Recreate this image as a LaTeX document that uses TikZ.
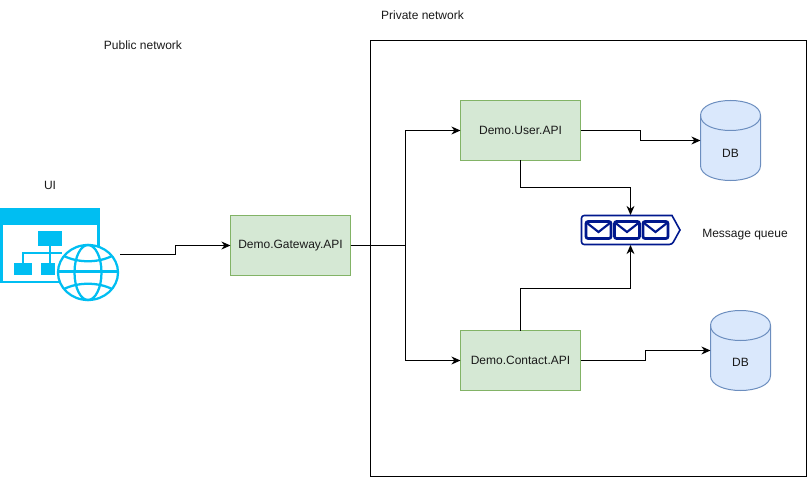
\documentclass[tikz,border=0pt]{standalone}
\usepackage{fontspec}
\setmainfont{Liberation Sans}
\usepackage{xcolor}
\usetikzlibrary{positioning,arrows.meta,calc}
\definecolor{ink}{HTML}{000000}
\definecolor{txt}{HTML}{1A1A1A}
\definecolor{greenbg}{HTML}{D5E8D4}
\definecolor{greenln}{HTML}{82B366}
\definecolor{bluebg}{HTML}{DAE8FC}
\definecolor{blueln}{HTML}{6C8EBF}
\definecolor{queue}{HTML}{00188D}
\definecolor{web}{HTML}{00BEF2}
\tikzset{
  svc/.style={draw=greenln, fill=greenbg, inner sep=0pt, outer sep=0pt, text=txt,
              font=\fontsize{9}{11}\selectfont, minimum width=90pt, minimum height=45pt},
  db/.style={inner sep=0pt, outer sep=0pt, minimum width=45pt, minimum height=60pt},
  dbl/.style={draw=blueln, fill=bluebg, line width=0.75pt},
  lb/.style={font=\fontsize{9}{11}\selectfont, color=txt, inner sep=0pt},
  ar/.style={-{Stealth[length=2.4mm, width=2.1mm]}, line width=0.75pt, color=ink},
  wb/.style={draw=web, line width=1.7pt},
  wf/.style={fill=web},
  ml/.style={draw=queue, line width=2pt, rounded corners=1.5pt},
}
\begin{document}
\begin{tikzpicture}[x=0.75pt, y=-0.75pt]
\useasboundingbox (0,0) rectangle (808,478);
% network frame
\node[draw=ink, line width=0.75pt, inner sep=0pt, outer sep=0pt, minimum width=327pt, minimum height=326.25pt] (priv) at (588,258.5) {};
\node[lb] (privl) at (422.5,15) {Private network};
\node[lb] (publ) at (143,45) {Public network};

% services
\node[svc] (gw) at (290.5,245.5) {Demo.Gateway.API};
\node[svc] (usr) [above right=41.25pt and 82.5pt of gw] {Demo.User.API};
\node[svc] (ct) [below right=41.25pt and 82.5pt of gw] {Demo.Contact.API};

% databases
\node[db] (db1) at (730.5,140.5) {};
\node[db] (db2) at (740.5,350.5) {};
\foreach \n in {db1,db2} {
  \filldraw[dbl] ($(\n.north west)+(0,15)$) -- ($(\n.south west)+(0,-15)$)
    .. controls ($(\n.south west)+(0,5)$) and ($(\n.south east)+(0,5)$) .. ($(\n.south east)+(0,-15)$)
    -- ($(\n.north east)+(0,15)$)
    .. controls ($(\n.north east)+(0,-5)$) and ($(\n.north west)+(0,-5)$) .. ($(\n.north west)+(0,15)$) -- cycle;
  \draw[dbl, fill=none] ($(\n.north west)+(0,15)$)
    .. controls ($(\n.north west)+(0,35)$) and ($(\n.north east)+(0,35)$) .. ($(\n.north east)+(0,15)$);
}
\node[lb] (db1l) at (730.5,153) {DB};
\node[lb] (db2l) at (740.5,362) {DB};

% queue
\node[inner sep=0pt, outer sep=0pt, minimum width=74.25pt, minimum height=22.5pt] (mq) at (630.5,230) {};
\draw[draw=queue, line width=1.2pt, rounded corners=2pt] (672,215.5) -- (581.5,215.5) -- (581.5,244.5) -- (672,244.5)
  [sharp corners] -- (680,230) -- cycle;
\foreach \ex in {586,614.5,643} {
  \draw[ml, fill=white] (\ex,221.5) rectangle ++(25,17);
  \draw[draw=queue, line width=1.6pt] (\ex+1,223) -- (\ex+12.5,232) -- (\ex+24,223);
}
\node[lb] (mql) at (745,235) {Message queue};

% ui icon
\coordinate (ui) at (120,254);
\node[lb] (uil) at (50,185) {UI};
\fill[wf] (0.5,208) rectangle (100,225);
\draw[wb] (1.5,224) rectangle (98.5,282);
\fill[wf] (38,231) rectangle (62,246);
\fill[wf] (14,263) rectangle (32,275);
\fill[wf] (41,263) rectangle (55,275);
\draw[web, line width=1.6pt] (50,246) -- (50,263) (23,263) -- (23,253) -- (62,253);
\filldraw[wb, fill=white] (88,272.5) ellipse[x radius=30, y radius=27.5];
\draw[wb] (88,272.5) ellipse[x radius=13.5, y radius=27.5];
\draw[wb] (58,271.5) -- (118,271.5);
\draw[wb] (64,256) .. controls (78,263) and (98,263) .. (112,256);
\draw[wb] (64,289) .. controls (78,282) and (98,282) .. (112,289);

% connectors
\draw[ar] (ui) -- ++(55,0) |- (gw.west);
\draw[ar] (gw.east) -- ++(55,0) |- (usr.west);
\draw[ar] (gw.east) -- ++(55,0) |- (ct.west);
\draw[ar] (usr.east) -- ++(60,0) |- (db1.west);
\draw[ar] (ct.east) -- ++(65,0) |- (db2.west);
\draw[ar] (usr.south) -- ++(0,27) -| (mq.north);
\draw[ar] (ct.north) -- ++(0,-42) -| (mq.south);
\end{tikzpicture}
\end{document}
